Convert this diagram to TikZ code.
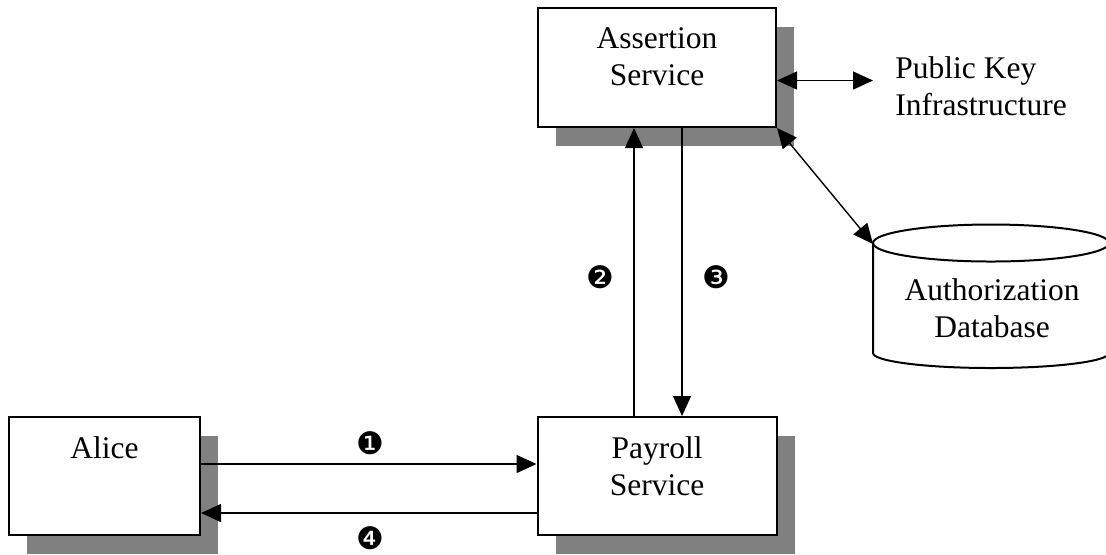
\documentclass[tikz,border=0pt]{standalone}
\usepackage{fontspec}
\setmainfont{Liberation Serif}
\newfontfamily\dingfont{DejaVu Sans}
\usetikzlibrary{arrows.meta,shadows,positioning}
\definecolor{shadowgray}{RGB}{128,128,128}

\begin{document}
\begin{tikzpicture}[x=0.5pt, y=-0.5pt,
    box/.style={draw=black, line width=1pt, fill=white, inner sep=0pt,
      general shadow={fill=shadowgray, shadow xshift=9pt, shadow yshift=-9.25pt}},
    boxtext/.style={align=center, inner sep=0pt, font=\fontsize{15.75}{18.5}\selectfont},
    num/.style={inner sep=0pt, font=\dingfont\fontsize{15.5}{17}\selectfont},
    arr/.style={line width=0.7pt, -{Triangle[length=10pt, width=9pt]}},
    dbl/.style={line width=0.7pt, {Triangle[length=10pt, width=9pt]}-{Triangle[length=10pt, width=9pt]}}]
  \useasboundingbox (0,0) rectangle (1106,554);
  \node[box, minimum width=119pt, minimum height=59.5pt] (assert) at (657,67.5) {};
  \node[boxtext, below=10pt of assert.north] (assertlbl) {Assertion\\Service};
  \node[box, minimum width=95.5pt, minimum height=59pt] (alice) at (104.5,476) {};
  \node[boxtext, below=10pt of alice.north] (alicelbl) {Alice};
  \node[box, minimum width=119.5pt, minimum height=59pt] (payroll) at (657,476) {};
  \node[boxtext, below=10pt of payroll.north] (payrolllbl) {Payroll\\Service};
  \node[boxtext, align=left, anchor=west, inner xsep=11pt] (pki) at (873,86) {Public Key\\Infrastructure};
  % database cylinder
  \draw[line width=1pt] (873,243) -- (873,353) arc[start angle=180, end angle=0, x radius=118, y radius=15] -- (1109,243);
  \draw[line width=1pt] (991,243) ellipse [x radius=118, y radius=18.5];
  \coordinate (dbcorner) at (873,244);
  \node[boxtext] (dblbl) at (992,308) {Authorization\\Database};
  % messages
  \draw[arr] ([yshift=6pt]alice.east) -- ([yshift=6pt]payroll.west);
  \draw[arr] ([xshift=-11.5pt]payroll.north) -- ([xshift=-11.5pt]assert.south);
  \draw[arr] ([xshift=12.5pt]assert.south) -- ([xshift=12.5pt]payroll.north);
  \draw[arr] ([yshift=-18.5pt]payroll.west) -- ([yshift=-18.5pt]alice.east);
  \draw[dbl] ([yshift=-6.5pt]assert.east) -- ([yshift=-6.5pt]assert.east -| pki.west);
  \draw[dbl] (assert.south east) -- (dbcorner);
  \node[num] (n1) at (370,443) {❶};
  \node[num] (n2) at (600,277) {❷};
  \node[num] (n3) at (716,277) {❸};
  \node[num] (n4) at (370,538) {❹};
\end{tikzpicture}
\end{document}
